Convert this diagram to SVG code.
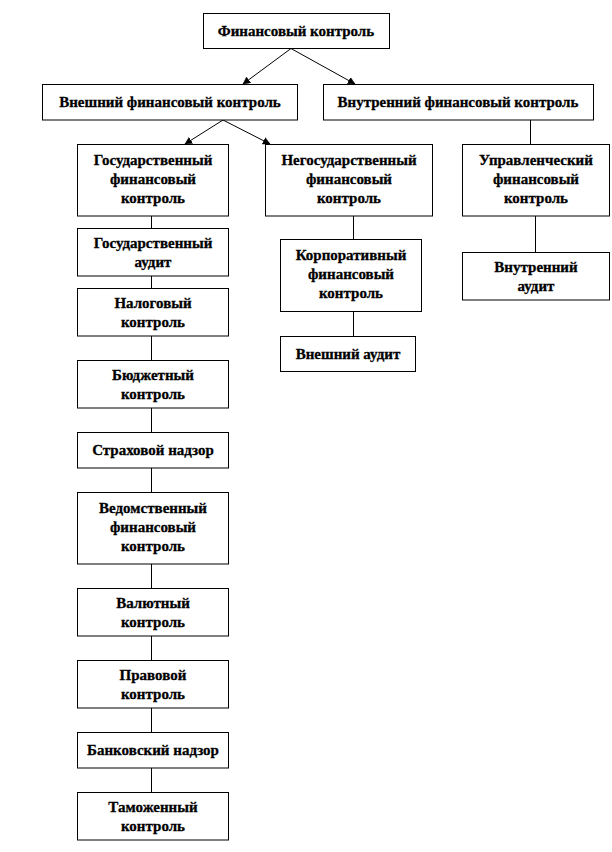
<svg xmlns="http://www.w3.org/2000/svg" width="612" height="852" viewBox="0 0 612 852">
<style>
.b{fill:#fff;stroke:#000;stroke-width:1}
.t{font-family:"Liberation Serif","Times New Roman",serif;font-weight:bold;font-size:15px;fill:#000;stroke:#000;stroke-width:0.3;text-anchor:middle}
.c{stroke:#000;stroke-width:1;fill:none}
</style>
<defs>
<marker id="ah" markerUnits="userSpaceOnUse" markerWidth="8" markerHeight="8" refX="7" refY="4" orient="auto">
<path d="M0,0.5 L7,4 L0,7.5 z" fill="#000" stroke="#000" stroke-width="0.5"/>
</marker>
</defs>
<rect width="612" height="852" fill="#fff"/>
<g id="connectors">
<line class="c" x1="291" y1="48.5" x2="243" y2="84" marker-end="url(#ah)"/>
<line class="c" x1="291" y1="48.5" x2="355" y2="84" marker-end="url(#ah)"/>
<line class="c" x1="223" y1="120" x2="185" y2="144" marker-end="url(#ah)"/>
<line class="c" x1="223" y1="120" x2="270" y2="144" marker-end="url(#ah)"/>
<line class="c" x1="530.5" y1="120" x2="530.5" y2="144.5"/>
<line class="c" x1="535.5" y1="216" x2="535.5" y2="252.5"/>
<line class="c" x1="353.5" y1="216" x2="353.5" y2="239.5"/>
<line class="c" x1="353.5" y1="311.5" x2="353.5" y2="336.5"/>
<line class="c" x1="151.5" y1="216" x2="151.5" y2="792.5"/>
</g>
<g id="n-fin"><rect class="b" x="203.5" y="13.5" width="186" height="35"/><text class="t" x="296" y="36">Финансовый контроль</text></g>
<g id="n-ext"><rect class="b" x="42.5" y="84.5" width="255" height="35.5"/><text class="t" x="170" y="107">Внешний финансовый контроль</text></g>
<g id="n-int"><rect class="b" x="323.5" y="84.5" width="270" height="35.5"/><text class="t" x="458" y="107">Внутренний финансовый контроль</text></g>
<g id="n-gov"><rect class="b" x="77.5" y="144.5" width="151" height="71.5"/><text class="t" x="153" y="165"><tspan x="153">Государственный</tspan><tspan x="153" dy="19">финансовый</tspan><tspan x="153" dy="19">контроль</tspan></text></g>
<g id="n-negov"><rect class="b" x="265.5" y="144.5" width="167" height="71.5"/><text class="t" x="349" y="165"><tspan x="349">Негосударственный</tspan><tspan x="349" dy="19">финансовый</tspan><tspan x="349" dy="19">контроль</tspan></text></g>
<g id="n-upr"><rect class="b" x="462.5" y="144.5" width="147" height="71.5"/><text class="t" x="536" y="165"><tspan x="536">Управленческий</tspan><tspan x="536" dy="19">финансовый</tspan><tspan x="536" dy="19">контроль</tspan></text></g>
<g id="n-gosaudit"><rect class="b" x="77.5" y="228.5" width="151" height="47.5"/><text class="t" x="153" y="248"><tspan x="153">Государственный</tspan><tspan x="153" dy="19">аудит</tspan></text></g>
<g id="n-nalog"><rect class="b" x="77.5" y="288.5" width="151" height="47.5"/><text class="t" x="153" y="308"><tspan x="153">Налоговый</tspan><tspan x="153" dy="19">контроль</tspan></text></g>
<g id="n-budget"><rect class="b" x="77.5" y="360.5" width="151" height="47.5"/><text class="t" x="153" y="380"><tspan x="153">Бюджетный</tspan><tspan x="153" dy="19">контроль</tspan></text></g>
<g id="n-strah"><rect class="b" x="77.5" y="432.5" width="151" height="35.5"/><text class="t" x="153" y="455">Страховой надзор</text></g>
<g id="n-vedom"><rect class="b" x="77.5" y="492.5" width="151" height="71.5"/><text class="t" x="153" y="513"><tspan x="153">Ведомственный</tspan><tspan x="153" dy="19">финансовый</tspan><tspan x="153" dy="19">контроль</tspan></text></g>
<g id="n-valut"><rect class="b" x="77.5" y="588.5" width="151" height="47.5"/><text class="t" x="153" y="608"><tspan x="153">Валютный</tspan><tspan x="153" dy="19">контроль</tspan></text></g>
<g id="n-pravo"><rect class="b" x="77.5" y="660.5" width="151" height="47.5"/><text class="t" x="153" y="680"><tspan x="153">Правовой</tspan><tspan x="153" dy="19">контроль</tspan></text></g>
<g id="n-bank"><rect class="b" x="77.5" y="732.5" width="151" height="35.5"/><text class="t" x="153" y="755">Банковский надзор</text></g>
<g id="n-tamozh"><rect class="b" x="77.5" y="792.5" width="151" height="47.5"/><text class="t" x="153" y="812"><tspan x="153">Таможенный</tspan><tspan x="153" dy="19">контроль</tspan></text></g>
<g id="n-korp"><rect class="b" x="280.5" y="239.5" width="141" height="72"/><text class="t" x="351" y="259.5"><tspan x="351">Корпоративный</tspan><tspan x="351" dy="19">финансовый</tspan><tspan x="351" dy="19">контроль</tspan></text></g>
<g id="n-extaudit"><rect class="b" x="280.5" y="336.5" width="135" height="35"/><text class="t" x="348" y="359">Внешний аудит</text></g>
<g id="n-intaudit"><rect class="b" x="462.5" y="252.5" width="147" height="47.5"/><text class="t" x="536" y="272"><tspan x="536">Внутренний</tspan><tspan x="536" dy="19">аудит</tspan></text></g>
</svg>
